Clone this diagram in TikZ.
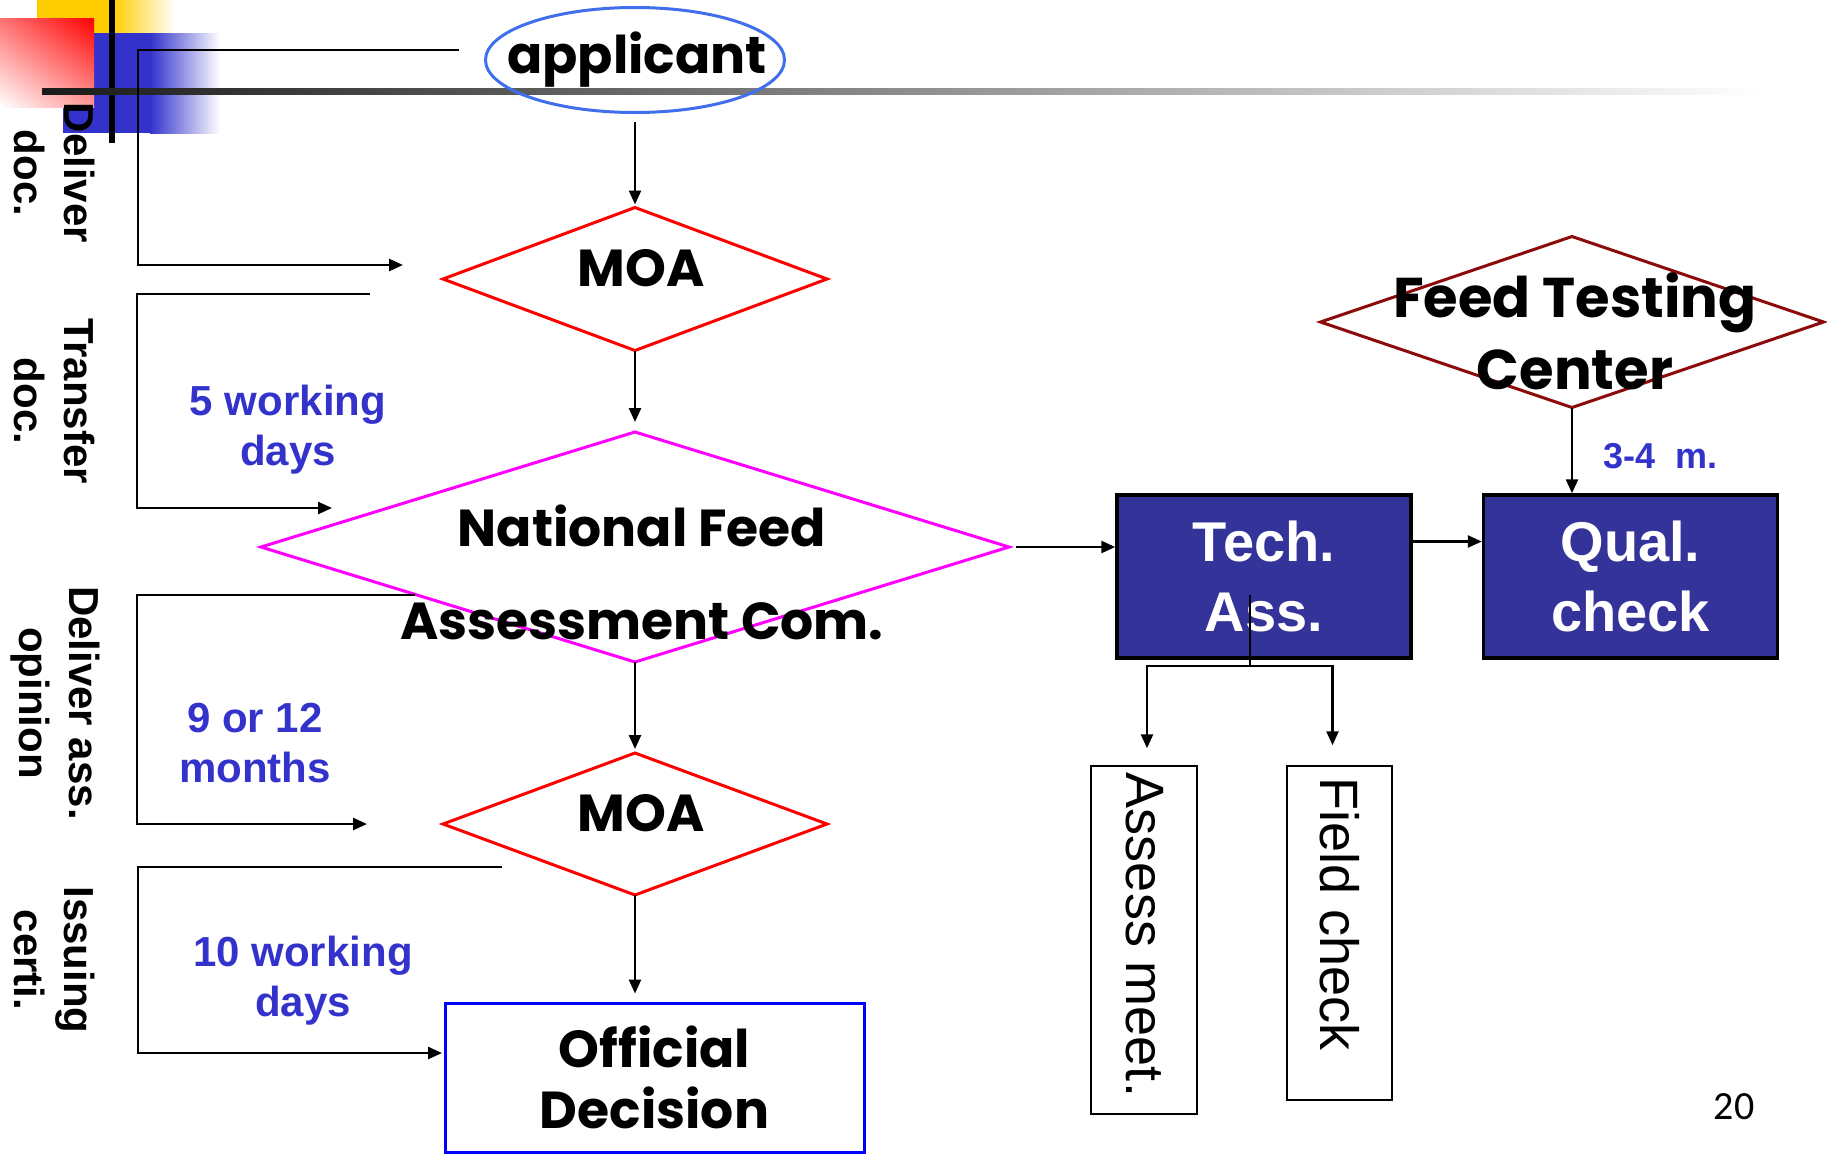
\documentclass[tikz,border=0pt]{standalone}
\usepackage{fontspec}
\setmainfont{Liberation Sans}
\newfontfamily\comicfont{Poppins}
\newfontfamily\pagenumfont{Carlito}
\usetikzlibrary{shapes.geometric,arrows.meta,shadings}
\definecolor{appblue}{RGB}{65,110,235}
\definecolor{boxblue}{RGB}{51,51,153}
\definecolor{labelblue}{RGB}{51,51,204}
\definecolor{decoblue}{RGB}{51,51,204}
\definecolor{decoyellow}{RGB}{255,204,0}
\definecolor{ftcred}{RGB}{140,10,10}
\definecolor{decblue}{RGB}{0,0,255}
\definecolor{moared}{RGB}{255,0,0}
\definecolor{nfacpink}{RGB}{255,0,255}

\begin{document}
\begin{tikzpicture}[x=1pt,y=-1pt,
    arr/.style={-{Triangle[length=14pt,width=12pt]},line width=2.5pt},
    dia/.style={diamond,draw,line width=3pt,inner sep=0pt,outer sep=0pt},
    hand/.style={align=center,font=\comicfont\bfseries\fontsize{52}{#1}\selectfont},
    hand/.default=72,
    side/.style={rotate=-90,align=center,font=\bfseries\fontsize{42}{50}\selectfont},
    days/.style={align=center,text=labelblue,font=\bfseries\fontsize{42}{50}\selectfont},
    blk/.style={draw=black,fill=boxblue,text=white,line width=3.5pt,minimum width=294pt,minimum height=163pt,align=center,font=\bfseries\fontsize{56}{70}\selectfont},
    thin/.style={draw=black,line width=1.5pt,inner sep=0pt},
    vtext/.style={rotate=-90,font=\fontsize{54}{60}\selectfont}]

    \fill[white] (0,0) rectangle (1827,1154);
    \useasboundingbox (0,0) rectangle (1827,1154);

    \fill[decoyellow] (37,0) rectangle (112,60);
    \shade[left color=decoyellow,right color=white] (112,0) rectangle (175,60);
    \fill[decoblue] (63,33) rectangle (150,133);
    \shade[left color=decoblue,right color=white] (150,33) rectangle (220,133);
    \shade[upper left=moared!55,upper right=moared,lower left=white,lower right=moared!40] (0,18) rectangle (94,107);
    \draw[line width=6pt] (112,0) -- (112,143);
    \shade[left color=black!90,right color=white] (42,88) rectangle (1760,94);

    \node[draw=appblue,line width=3pt,ellipse,minimum width=299pt,minimum height=105pt,inner sep=0pt] (app) at (635,60) {};
    \node[hand] (appt) at (637,60) {applicant};
    \node[dia,draw=moared,minimum width=384pt,minimum height=143pt] (moa1) at (635,279) {};
    \node[hand] (moa1t) at (641,268) {MOA};
    \node[dia,draw=nfacpink,minimum width=748pt,minimum height=230pt] (nfac) at (635,547) {};
    \node[hand=93] (nfact) at (642,572) {National Feed\\Assessment Com.};
    \node[dia,draw=moared,minimum width=384pt,minimum height=142pt] (moa2) at (635,824) {};
    \node[hand] (moa2t) at (641,813) {MOA};
    \node[draw=decblue,line width=3pt,minimum width=419pt,minimum height=149pt,hand=61] (dec) at (654.5,1077.5) {Official\\Decision};

    \node[blk] (tech) at (1264,576.5) {Tech.\\Ass.};
    \node[blk] (qual) at (1630.5,576.5) {Qual.\\check};
    \node[dia,draw=ftcred,minimum width=503pt,minimum height=171pt] (ftc) at (1572,322) {};
    \node[hand,font=\comicfont\bfseries\fontsize{56}{72}\selectfont] (ftct) at (1575,331) {Feed Testing\\Center};
    \node[thin,minimum width=106pt,minimum height=348pt] (asm) at (1144,940) {};
    \node[vtext] (asmt) at (1145,935) {Assess meet.};
    \node[thin,minimum width=105pt,minimum height=334pt] (fld) at (1339.5,933) {};
    \node[vtext] (fldt) at (1340,914) {Field check};

    \node[side] (l1) at (55,173) {Deliver\\doc.};
    \node[side] (l2) at (55,401) {Transfer\\doc.};
    \node[side] (l3) at (55,703) {Deliver ass.\\opinion};
    \node[side] (l4) at (55,960) {Issuing\\certi.};

    \node[days] (d1) at (288,430) {5 working\\days};
    \node[days] (d2) at (255,743) {9 or 12\\months};
    \node[days] (d3) at (303,981) {10 working\\days};
    \node[days,font=\bfseries\fontsize{36}{40}\selectfont] (d4) at (1660,456) {3-4\ \ m.};
    \node[font=\pagenumfont\fontsize{40}{48}\selectfont] (pg) at (1734,1107) {20};

    \coordinate (s1) at (459,50);
    \coordinate (e1) at (403,265);
    \coordinate (s2) at (370,294);
    \coordinate (e2) at (332,508);
    \coordinate (s3) at (415,595);
    \coordinate (e3) at (367,824);
    \coordinate (s4) at (502,867);
    \coordinate (e4) at (442,1053);
    \coordinate (tin) at (1250,595);
    \coordinate (tsp) at (1250,666);

    \draw[arr,shorten <=8pt,shorten >=3pt] (app) -- (moa1);
    \draw[arr,shorten >=10pt] (moa1) -- (nfac);
    \draw[arr,shorten >=4pt] (nfac) -- (moa2);
    \draw[arr,shorten >=8pt] (moa2.south) -- (moa2.south |- dec.north);
    \draw[arr,shorten <=7pt] (nfac.east) -- (nfac.east -| tech.west);
    \draw[arr] ([yshift=35pt]tech.east) -- ([yshift=35pt]qual.west);
    \draw[arr] (ftc.south) -- (ftc.south |- qual.north);
    \draw[line width=2.5pt] (tin) -- (tsp);
    \draw[arr,shorten >=17pt] (tsp) -| ([xshift=3pt]asm.north);
    \draw[arr,shorten >=20pt] (tsp) -| ([xshift=-7pt]fld.north);

    \draw[arr] (s1) -- ++(-321,0) |- (e1);
    \draw[arr] (s2) -- ++(-233,0) |- (e2);
    \draw[arr] (s3) -- ++(-278,0) |- (e3);
    \draw[arr] (s4) -- ++(-364,0) |- (e4);

  \end{tikzpicture}
\end{document}
